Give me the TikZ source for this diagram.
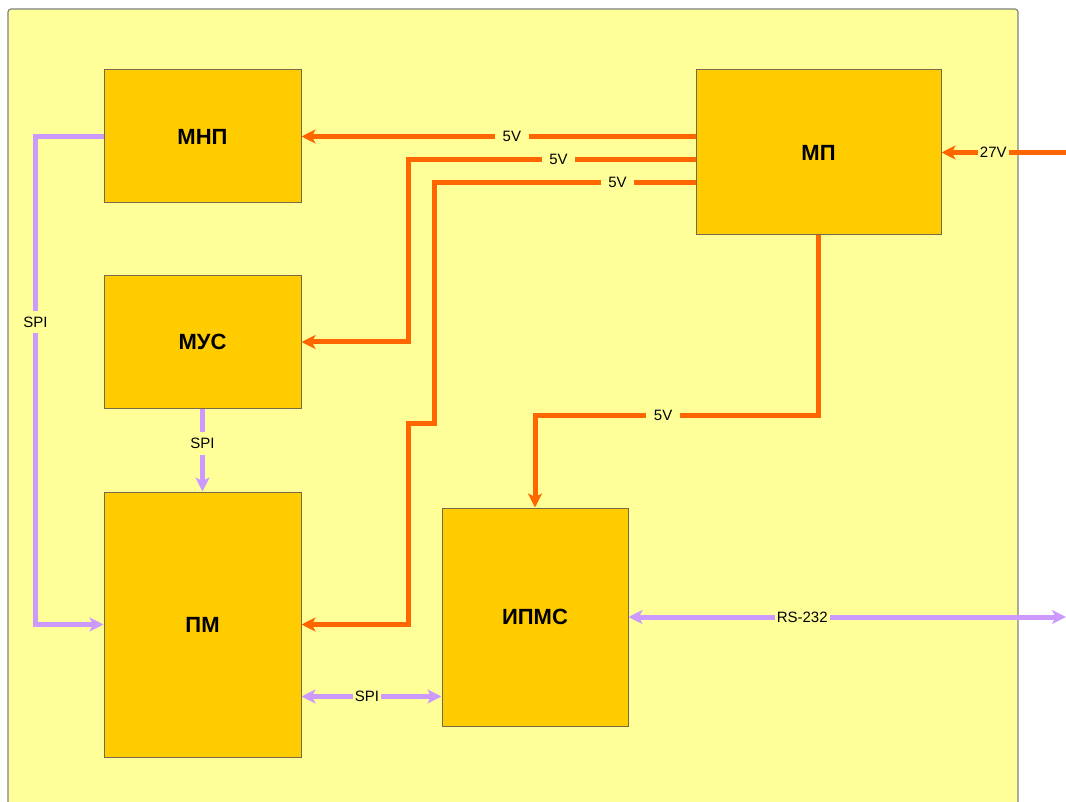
\documentclass[tikz,border=0pt]{standalone}
\usepackage{fontspec}
\setmainfont{Liberation Sans}
\usetikzlibrary{arrows.meta,calc}
\definecolor{bgyellow}{RGB}{255,255,153}
\definecolor{boxfill}{RGB}{255,204,0}
\definecolor{boxline}{RGB}{120,105,75}
\definecolor{pwr}{RGB}{255,102,0}
\definecolor{bus}{RGB}{204,153,255}
\definecolor{framegray}{RGB}{128,128,128}
\begin{document}
\begin{tikzpicture}[x=1pt,y=-1pt,
  blk/.style={draw=boxline, line width=1pt, fill=boxfill, inner sep=0pt,
    font=\fontsize{22}{26}\selectfont\bfseries},
  tip/.tip={Stealth[length=14pt,width=14pt,inset=3.5pt]},
  pwrline/.style={draw=pwr, line width=5pt, -tip},
  busline/.style={draw=bus, line width=5pt, -tip},
  busbi/.style={draw=bus, line width=5pt, tip-tip},
  lbl/.style={fill=bgyellow, font=\fontsize{15}{17}\selectfont, inner xsep=2pt, inner ysep=6pt},
  vlbl/.style={lbl, inner xsep=7.5pt}]
\useasboundingbox (0,0) rectangle (1066,802);
\begin{scope}
\clip (0,0) rectangle (1066,802);
\draw[framegray, fill=bgyellow, rounded corners=3pt, line width=1.2pt] (8,9) rectangle (1018,820);

\node[blk, minimum width=197pt, minimum height=133pt] (mnp) at (202.5,136.5) {МНП};
\node[blk, minimum width=197pt, minimum height=132pt] (mus) at (202.5,342) {МУС};
\node[blk, minimum width=197pt, minimum height=265pt] (pm) at (202.5,624.5) {ПМ};
\node[blk, minimum width=186pt, minimum height=218pt] (ipms) at (535,617) {ИПМС};
\node[blk, minimum width=245pt, minimum height=165pt] (mp) at (818.5,152.5) {МП};

\coordinate (in27) at (1066,152.5);
\coordinate (rsext) at (1066,617);

% power lines
\draw[pwrline] (mp.west |- mnp.east) -- node[vlbl,pos=0.466]{5V} (mnp.east);
\draw[pwrline] ($(mp.west)+(0,7)$) -- node[vlbl,pos=0.4765]{5V} ++(-287.5,0) |- (mus.east);
\draw[pwrline] ($(mp.west)+(0,30)$) -- node[vlbl,pos=0.298]{5V} ++(-261.5,0)
   -- ++(0,241) -- ++(-26,0) |- (pm.east);
\draw[pwrline] (mp.south) -- ++(0,180) -| node[vlbl,pos=0.274]{5V} (ipms.north);
\draw[pwrline] (in27) -- node[lbl,pos=0.584]{27V} (mp.east);

% buses
\draw[busline] (mnp.west) -- ++(-68,0) |- node[lbl,pos=0.19]{SPI} (pm.west);
\draw[busline] (mus.south) -- node[lbl,pos=0.42]{SPI} (pm.north);
\draw[busbi] ($(pm.south east)+(0,-61)$) -- node[lbl,pos=0.468]{SPI}
   ($(ipms.west |- pm.south east)+(0,-61)$);
\draw[busbi] (ipms.east) -- node[lbl,pos=0.397]{RS-232} (rsext);
\end{scope}
\end{tikzpicture}
\end{document}
